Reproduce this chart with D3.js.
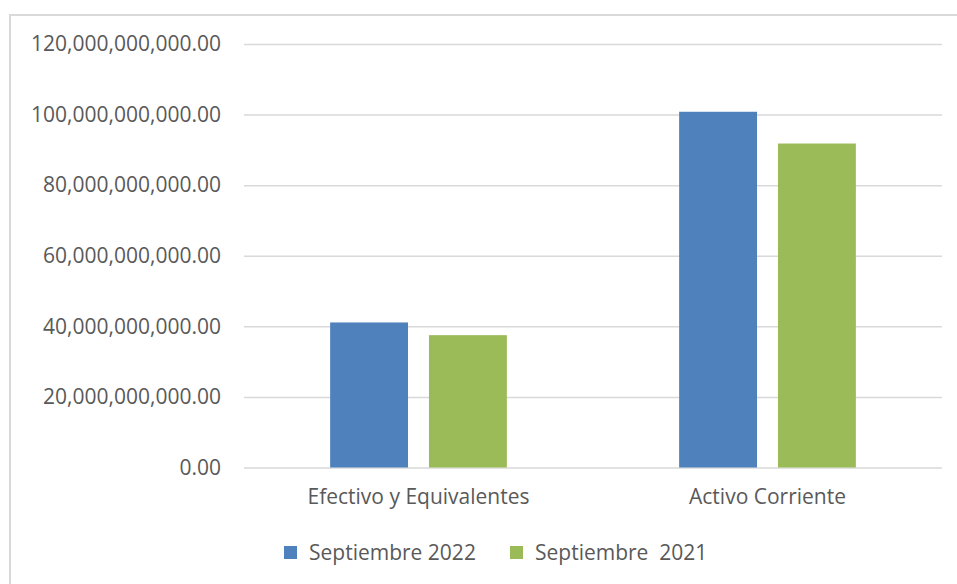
<!DOCTYPE html>
<html>
<head>
<meta charset="utf-8">
<script src="https://cdn.jsdelivr.net/npm/d3@7"></script>
<style>
  body { margin: 0; background: #fff; }
  svg { display: block; }
  text { font-family: "Open Sans", "Liberation Sans", sans-serif; fill: #595959; }
</style>
</head>
<body>
<svg id="canvas" width="957" height="584"></svg>
<script>
let categories = ["Efectivo y Equivalentes", "Activo Corriente"]
let seriesNames = ["Septiembre 2022", "Septiembre  2021"]
let sep2022 = [41100000000, 100800000000]
let sep2021 = [37500000000, 91800000000]
let yTicks = [0, 20000000000, 40000000000, 60000000000, 80000000000, 100000000000, 120000000000]
let colors = ["#4f81bd", "#9bbb59"]

let canvas = d3.select('#canvas')

// chart frame
canvas.append('rect')
    .attr('x', 10).attr('y', 15)
    .attr('width', 960).attr('height', 600)
    .attr('fill', 'none')
    .attr('stroke', '#d9d9d9')
    .attr('stroke-width', 2)

let plotLeft = 244, plotRight = 942, plotTop = 44, plotBottom = 467.5
let fontSize = 21

let y = d3.scaleLinear().domain([0, 120000000000]).range([plotBottom, plotTop])
let x0 = d3.scaleBand().domain(categories).range([plotLeft, plotRight])
    .paddingInner(0.4936).paddingOuter(0.2468)
let x1 = d3.scaleBand().domain(seriesNames).range([0, x0.bandwidth()])
    .paddingInner(0.212)

let fmt = d3.format(',.2f')

// gridlines + labels
let yAxis = d3.axisLeft(y).tickValues(yTicks).tickFormat(fmt)
    .tickSize(-(plotRight - plotLeft)).tickPadding(23)
let gy = canvas.append('g').attr('transform', `translate(${plotLeft},0)`).call(yAxis)
gy.select('.domain').remove()
gy.selectAll('.tick line').attr('stroke', '#d9d9d9').attr('stroke-width', 1.5)
gy.selectAll('.tick text')
    .attr('font-size', fontSize)
    .attr('fill', '#595959')
    .style('font-family', '"Open Sans", "Liberation Sans", sans-serif')

let rows = categories.map((c, i) => ({ cat: c, values: [sep2022[i], sep2021[i]] }))

let groups = canvas.selectAll('g.grp')
    .data(rows)
    .enter()
    .append('g')
    .attr('class', 'grp')
    .attr('transform', d => `translate(${x0(d.cat)},0)`)

groups.selectAll('rect')
    .data(d => d.values.map((v, i) => ({ name: seriesNames[i], value: v, i: i })))
    .enter()
    .append('rect')
    .attr('x', d => x1(d.name))
    .attr('width', x1.bandwidth())
    .attr('y', d => y(d.value))
    .attr('height', d => y(0) - y(d.value))
    .attr('fill', d => colors[d.i])

// category labels
let xAxis = d3.axisBottom(x0).tickSize(0).tickPadding(22)
let gx = canvas.append('g').attr('transform', `translate(0,${plotBottom})`).call(xAxis)
gx.select('.domain').remove()
gx.selectAll('.tick text')
    .attr('font-size', fontSize)
    .attr('fill', '#595959')
    .style('font-family', '"Open Sans", "Liberation Sans", sans-serif')

// legend
let legendX = [284, 510]
let legend = canvas.selectAll('g.leg')
    .data(seriesNames)
    .enter()
    .append('g')
    .attr('class', 'leg')
    .attr('transform', (d, i) => `translate(${legendX[i]},546)`)
legend.append('rect')
    .attr('width', 13).attr('height', 13)
    .attr('fill', (d, i) => colors[i])
legend.append('text')
    .attr('x', 25).attr('y', 14)
    .attr('font-size', fontSize)
    .style('white-space', 'pre')
    .text(d => d)
</script>
</body>
</html>
